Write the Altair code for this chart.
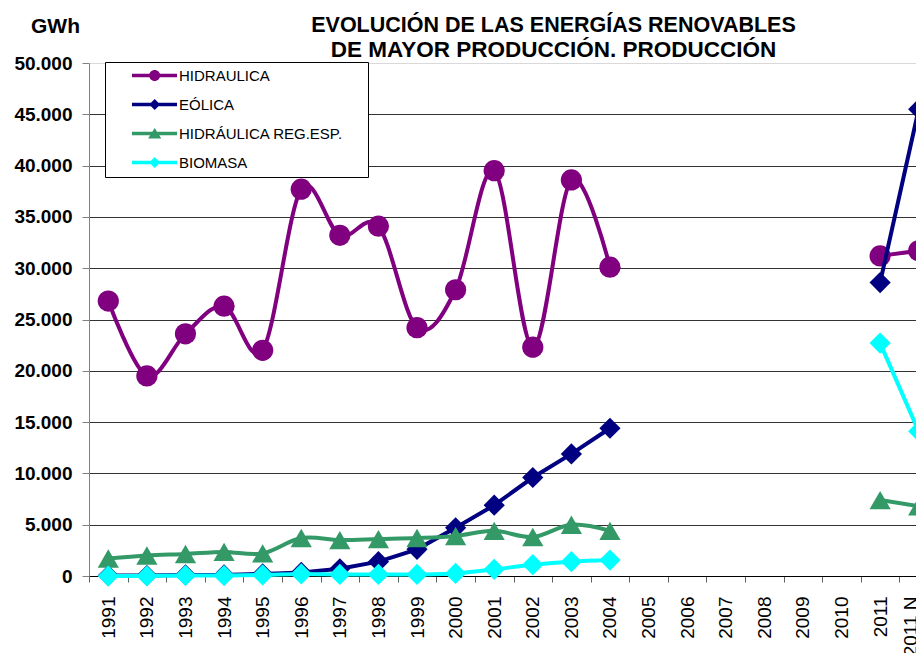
import altair as alt
import pandas as pd

FONT = "Liberation Sans"

years = ["1991", "1992", "1993", "1994", "1995", "1996", "1997", "1998", "1999", "2000",
         "2001", "2002", "2003", "2004", "2005", "2006", "2007", "2008", "2009", "2010",
         "2011", "2011 N"]

series_names = ["HIDRAULICA", "EÓLICA", "HIDRÁULICA REG.ESP.", "BIOMASA"]
series_colors = ["#800080", "#000080", "#339966", "#00FFFF"]
series_shapes = ["circle", "diamond", "triangle-up", "diamond"]
series_interp = ["cardinal", "linear", "cardinal", "cardinal"]

hidraulica = [26800, 19500, 23600, 26300, 22000, 37700, 33200, 34100, 24200, 27900,
              39500, 22300, 38600, 30100, None, None, None, None, None, None,
              31200, 31700]
eolica = [40, 50, 100, 100, 200, 350, 700, 1400, 2600, 4700,
          6900, 9600, 11900, 14400, None, None, None, None, None, None,
          28600, 45500]
hidraulica_re = [1700, 2000, 2150, 2350, 2200, 3700, 3500, 3600, 3700, 3900,
                 4400, 3800, 5000, 4400, None, None, None, None, None, None,
                 7400, 6800]
biomasa = [0, 0, 50, 50, 100, 200, 150, 150, 150, 250,
           650, 1100, 1400, 1550, None, None, None, None, None, None,
           22700, 14100]

y_ticks = [0, 5000, 10000, 15000, 20000, 25000, 30000, 35000, 40000, 45000, 50000]

title_line1 = "EVOLUCIÓN DE LAS ENERGÍAS RENOVABLES"
title_line2 = "DE MAYOR PRODUCCIÓN. PRODUCCIÓN"

# legend symbols: line segment + marker (custom SVG paths); the last, zero-area
# sub-path only widens the legend box to the reference's width
LINE = "M2.45,-0.32H10.64V0.32H2.45Z"
WIDEN = "M44.1,0L44.1,0.01Z"
legend_paths = [
    LINE + "M5.58,0A1,1 0 1,1 7.58,0A1,1 0 1,1 5.58,0Z" + WIDEN,
    LINE + "M6.58,-1L7.58,0L6.58,1L5.58,0Z" + WIDEN,
    LINE + "M6.58,-1L7.78,0.9L5.38,0.9Z" + WIDEN,
    LINE + "M6.58,-1L7.58,0L6.58,1L5.58,0Z" + WIDEN,
]

rows = []
for name, vals in zip(series_names, [hidraulica, eolica, hidraulica_re, biomasa]):
    for i, v in enumerate(vals):
        if v is None:
            continue
        rows.append({"year": years[i], "series": name, "value": v,
                     "seg": "a" if i < 14 else "b"})
df = pd.DataFrame(rows)

x_enc = alt.X(
    "year:O", sort=years,
    scale=alt.Scale(type="band", domain=years, paddingInner=0, paddingOuter=0,
                    range=[0, 849]),
    axis=alt.Axis(title=None, labelAngle=270, labelFont=FONT, labelFontSize=19,
                  labelColor="black", labelPadding=14, tickBand="extent", tickSize=6,
                  tickColor="#606060", domainColor="black", grid=False, labelLimit=300,
                  labelOffset={"condition": {"test": "datum.value === '2011 N'", "value": -8},
                               "value": 0}),
)
y_enc = alt.Y(
    "value:Q",
    scale=alt.Scale(domain=[0, 50000], nice=False),
    axis=alt.Axis(values=y_ticks, title="GWh", titleAngle=0, titleX=-34, titleY=-31,
                  titleAlign="center", titleBaseline="alphabetic", titleFont=FONT,
                  titleFontSize=21, titleFontWeight="bold", titleColor="black",
                  labelFont=FONT, labelFontSize=19, labelFontWeight="bold",
                  labelColor="black",
                  labelExpr="replace(format(datum.value, ','), ',', '.')",
                  tickSize=7, tickColor="#808080", domainColor="#808080",
                  labelPadding=10, grid=True, gridWidth=1,
                  gridColor={"condition": {"test": "datum.value === 50000", "value": "#d9d9d9"},
                             "value": "#333333"}),
)

layers = []
for name, color, shape, interp in zip(series_names, series_colors, series_shapes, series_interp):
    base = alt.Chart(df).transform_filter(alt.datum.series == name)
    layers.append(base.mark_line(color=color, strokeWidth=4, interpolate=interp)
                  .encode(x=x_enc, y=y_enc, detail="seg:N"))
    layers.append(base.mark_point(filled=True, color=color, shape=shape, size=450, opacity=1)
                  .encode(x=x_enc, y=y_enc))

legend_cfg = dict(title=None, orient="none", legendX=16, legendY=-1,
                  padding=6, fillColor="white", strokeColor="black",
                  labelFont=FONT, labelFontSize=15, labelColor="black",
                  labelOffset=53, labelLimit=400, rowPadding=13,
                  symbolSize=121, symbolStrokeWidth=0)

legend_layer = alt.Chart(df).transform_filter("false").mark_point(
    filled=True, size=121, opacity=1
).encode(
    x=x_enc, y=y_enc,
    color=alt.Color("series:N", scale=alt.Scale(domain=series_names, range=series_colors),
                    legend=alt.Legend(**legend_cfg)),
    shape=alt.Shape("series:N", scale=alt.Scale(domain=series_names, range=legend_paths),
                    legend=alt.Legend(**legend_cfg)),
)
layers.append(legend_layer)

chart = alt.layer(*layers).properties(
    width=827, height=513,
    autosize=alt.AutoSizeParams(type="none"),
    padding={"left": 81, "top": 55, "right": 0, "bottom": 77},
    title=alt.TitleParams(text=title_line1, subtitle=title_line2, font=FONT,
                          fontSize=21.5, fontWeight="bold", color="black",
                          subtitleFont=FONT, subtitleFontSize=22.5,
                          subtitleFontWeight="bold", subtitleColor="black",
                          subtitlePadding=2,
                          anchor="middle", frame="group", dx=51, offset=-46),
).configure_view(strokeWidth=0)

chart.save("out.html", embed_options={"renderer": "svg", "actions": False})
